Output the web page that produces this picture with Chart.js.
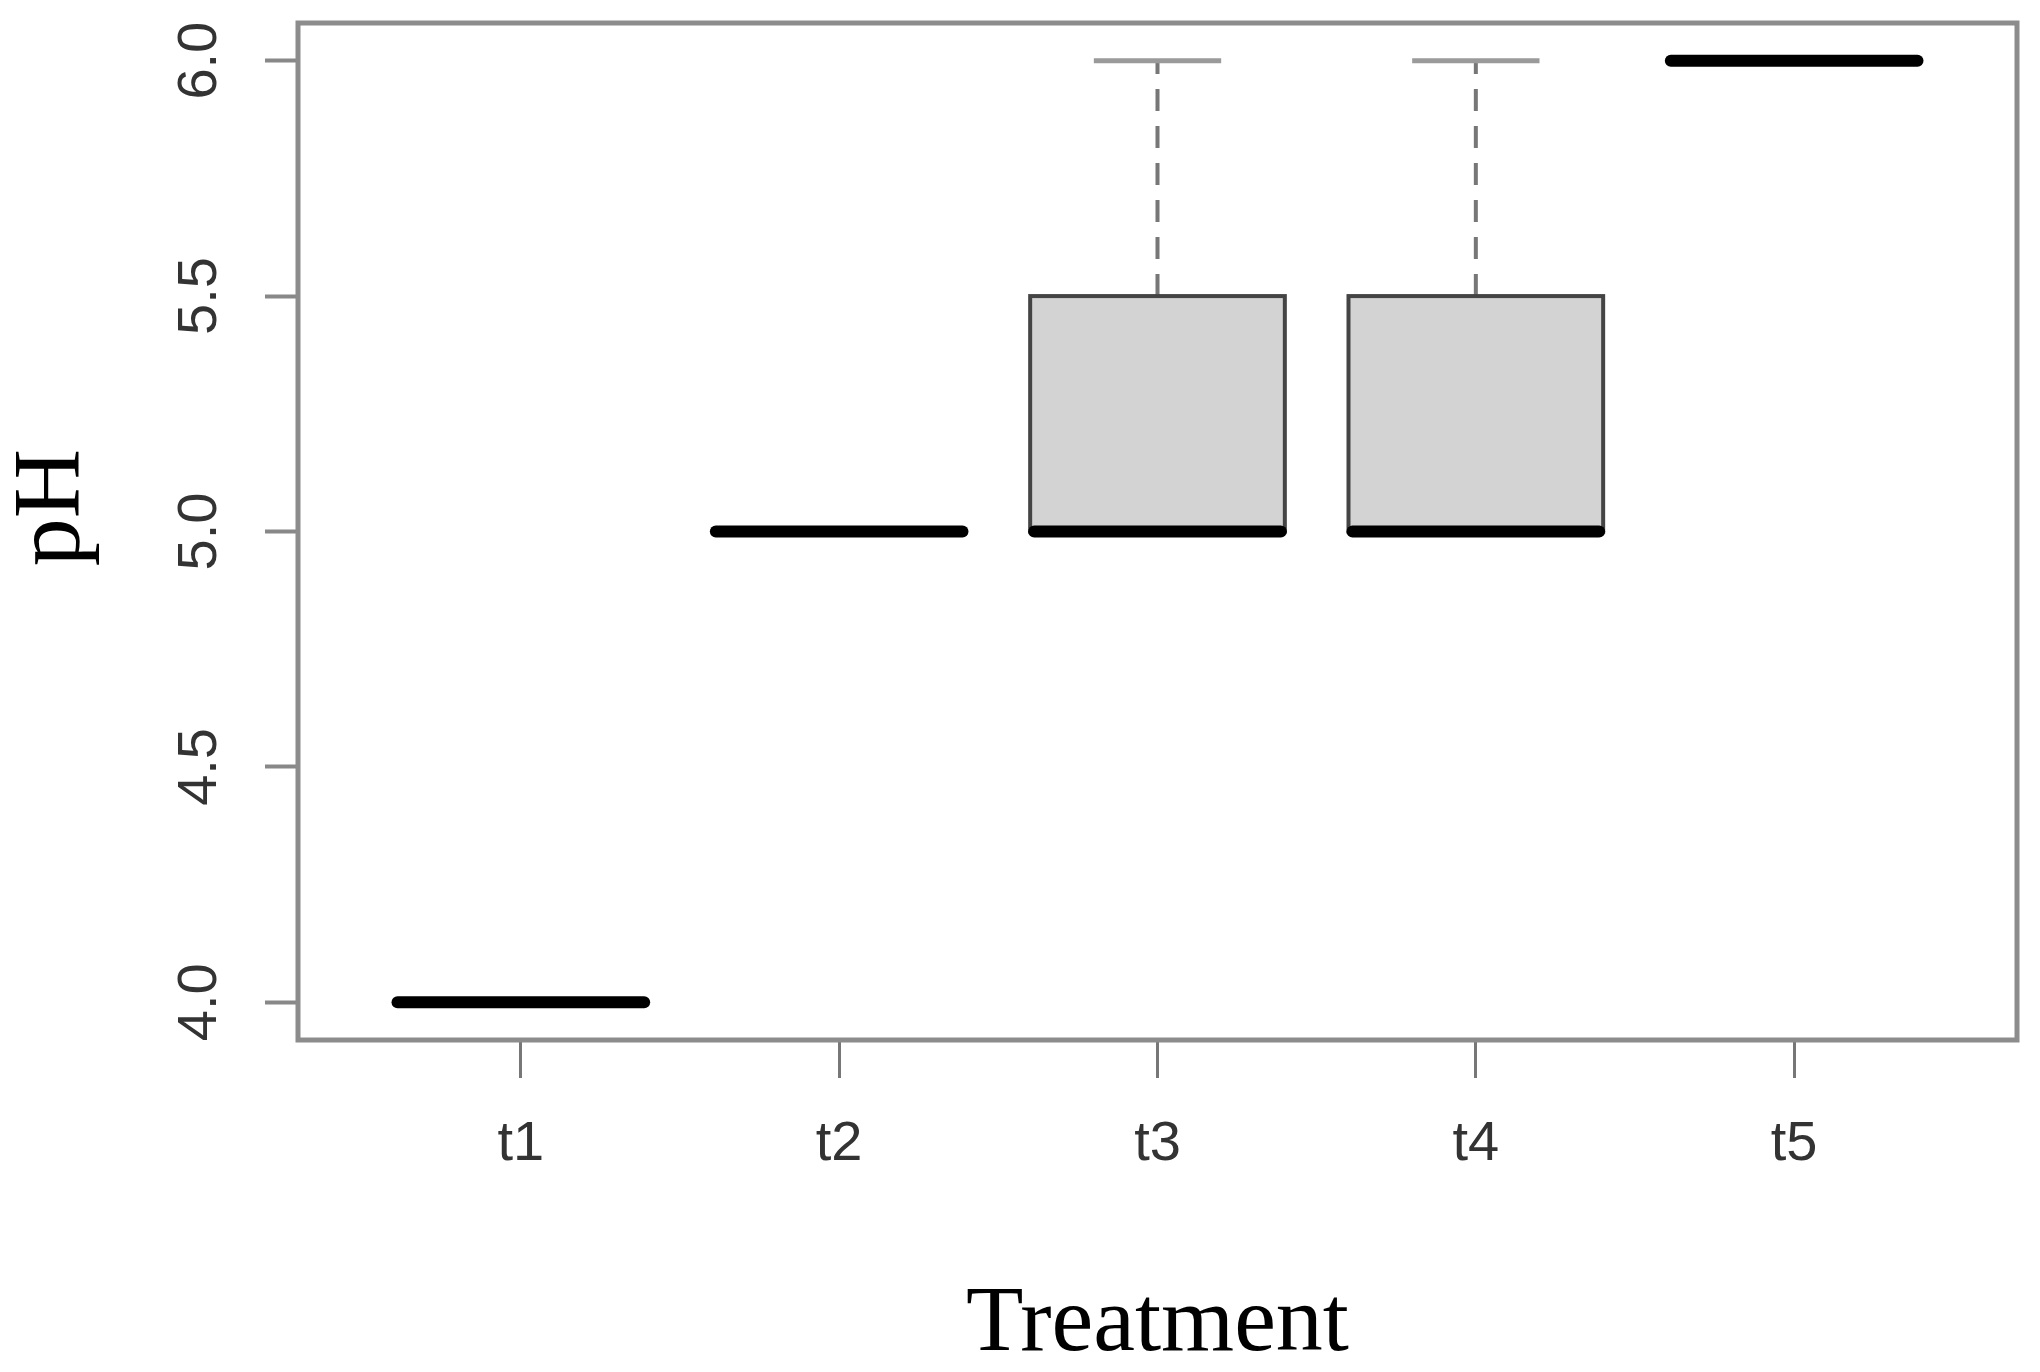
<!DOCTYPE html>
<html>
<head>
<meta charset="utf-8">
<script src="https://cdn.jsdelivr.net/npm/chart.js"></script>
<style>
  body { margin: 0; background: #fff; }
  #wrap { width: 2040px; height: 1372px; }
</style>
</head>
<body>
<div id="wrap"><canvas id="phChart" width="2040" height="1372"></canvas></div>
<script>
// 처리구별 pH 상자그림 데이터
const categories = ['t1', 't2', 't3', 't4', 't5'];
const whiskerLow = [4.0, 5.0, 5.0, 5.0, 6.0];
const quartile1 = [4.0, 5.0, 5.0, 5.0, 6.0];
const medians = [4.0, 5.0, 5.0, 5.0, 6.0];
const quartile3 = [4.0, 5.0, 5.5, 5.5, 6.0];
const whiskerHigh = [4.0, 5.0, 6.0, 6.0, 6.0];
const yTicks = [4.0, 4.5, 5.0, 5.5, 6.0];

// 상자, 수염, 중앙값을 축 스케일로 그리는 플러그인
const boxplotPlugin = {
    id: 'boxplot',
    afterDatasetsDraw(chart) {
        const ctx = chart.ctx;
        const xs = chart.scales.x;
        const ys = chart.scales.y;
        ctx.save();
        categories.forEach((c, i) => {
            const x = xs.getPixelForValue(i + 1);
            const half = xs.getPixelForValue(i + 1.4) - x;
            const yQ1 = ys.getPixelForValue(quartile1[i]);
            const yQ3 = ys.getPixelForValue(quartile3[i]);
            const yMed = ys.getPixelForValue(medians[i]);
            const yLo = ys.getPixelForValue(whiskerLow[i]);
            const yHi = ys.getPixelForValue(whiskerHigh[i]);

            // 수염 (점선)
            ctx.lineCap = 'butt';
            ctx.strokeStyle = '#777';
            ctx.lineWidth = 4;
            ctx.setLineDash([22, 15]);
            if (whiskerHigh[i] > quartile3[i]) {
                ctx.beginPath(); ctx.moveTo(x, yQ3); ctx.lineTo(x, yHi); ctx.stroke();
            }
            if (whiskerLow[i] < quartile1[i]) {
                ctx.beginPath(); ctx.moveTo(x, yQ1); ctx.lineTo(x, yLo); ctx.stroke();
            }
            ctx.setLineDash([]);
            ctx.strokeStyle = '#9a9a9a';
            ctx.lineWidth = 5;
            if (whiskerHigh[i] > quartile3[i]) {
                ctx.beginPath(); ctx.moveTo(x - half / 2, yHi); ctx.lineTo(x + half / 2, yHi); ctx.stroke();
            }
            if (whiskerLow[i] < quartile1[i]) {
                ctx.beginPath(); ctx.moveTo(x - half / 2, yLo); ctx.lineTo(x + half / 2, yLo); ctx.stroke();
            }

            // 상자
            if (quartile3[i] > quartile1[i]) {
                ctx.fillStyle = '#d3d3d3';
                ctx.fillRect(x - half, yQ3, half * 2, yQ1 - yQ3);
                ctx.strokeStyle = '#444';
                ctx.lineWidth = 4;
                ctx.strokeRect(x - half, yQ3, half * 2, yQ1 - yQ3);
            }

            // 중앙값
            ctx.strokeStyle = '#000';
            ctx.lineWidth = 12;
            ctx.lineCap = 'round';
            ctx.beginPath(); ctx.moveTo(x - half + 4, yMed); ctx.lineTo(x + half - 4, yMed); ctx.stroke();
        });
        ctx.restore();
    },
    afterDraw(chart) {
        // 플롯 테두리
        const a = chart.chartArea;
        const ctx = chart.ctx;
        ctx.save();
        ctx.strokeStyle = '#8c8c8c';
        ctx.lineWidth = 5;
        ctx.strokeRect(a.left, a.top, a.right - a.left, a.bottom - a.top);
        ctx.restore();
    }
};

new Chart(document.getElementById('phChart').getContext('2d'), {
    type: 'scatter',
    data: {
        datasets: [{
            data: medians.map((m, i) => ({ x: i + 1, y: m })),
            pointRadius: 0,
            showLine: false
        }]
    },
    options: {
        responsive: false,
        devicePixelRatio: 1,
        animation: false,
        layout: { padding: { top: 23, right: 23, left: 0, bottom: 0 } },
        plugins: { legend: { display: false }, tooltip: { enabled: false } },
        scales: {
            x: {
                type: 'linear',
                min: 0.3,
                max: 5.7,
                afterBuildTicks: s => { s.ticks = categories.map((c, i) => ({ value: i + 1 })); },
                afterFit: s => { s.height = 332; s.paddingLeft = 0; s.paddingRight = 0; },
                border: { display: false },
                grid: { drawOnChartArea: false, drawTicks: true, tickLength: 38, tickColor: '#777', tickWidth: 3 },
                ticks: {
                    callback: v => categories[v - 1],
                    font: { family: 'Liberation Sans', size: 56 },
                    color: '#333',
                    padding: 33,
                    maxRotation: 0,
                    autoSkip: false
                },
                title: {
                    display: true,
                    text: 'Treatment',
                    font: { family: 'Liberation Serif', size: 94, lineHeight: 1 },
                    color: '#000',
                    padding: { top: 0, bottom: 0 }
                }
            },
            y: {
                min: 3.92,
                max: 6.08,
                afterBuildTicks: s => { s.ticks = yTicks.map(v => ({ value: v })); },
                afterFit: s => { s.width = 298; s.paddingTop = 0; s.paddingBottom = 0; },
                border: { display: false },
                grid: { drawOnChartArea: false, drawTicks: true, tickLength: 33, tickColor: '#888', tickWidth: 4 },
                ticks: {
                    callback: v => v.toFixed(1),
                    font: { family: 'Liberation Sans', size: 56 },
                    color: '#333',
                    minRotation: 90,
                    maxRotation: 90,
                    crossAlign: 'center',
                    padding: 26
                },
                title: {
                    display: true,
                    text: '\u2002pH',
                    font: { family: 'Liberation Serif', size: 96, lineHeight: 1 },
                    color: '#000',
                    padding: { top: 6, bottom: 0 }
                }
            }
        }
    },
    plugins: [boxplotPlugin]
});
</script>
</body>
</html>
